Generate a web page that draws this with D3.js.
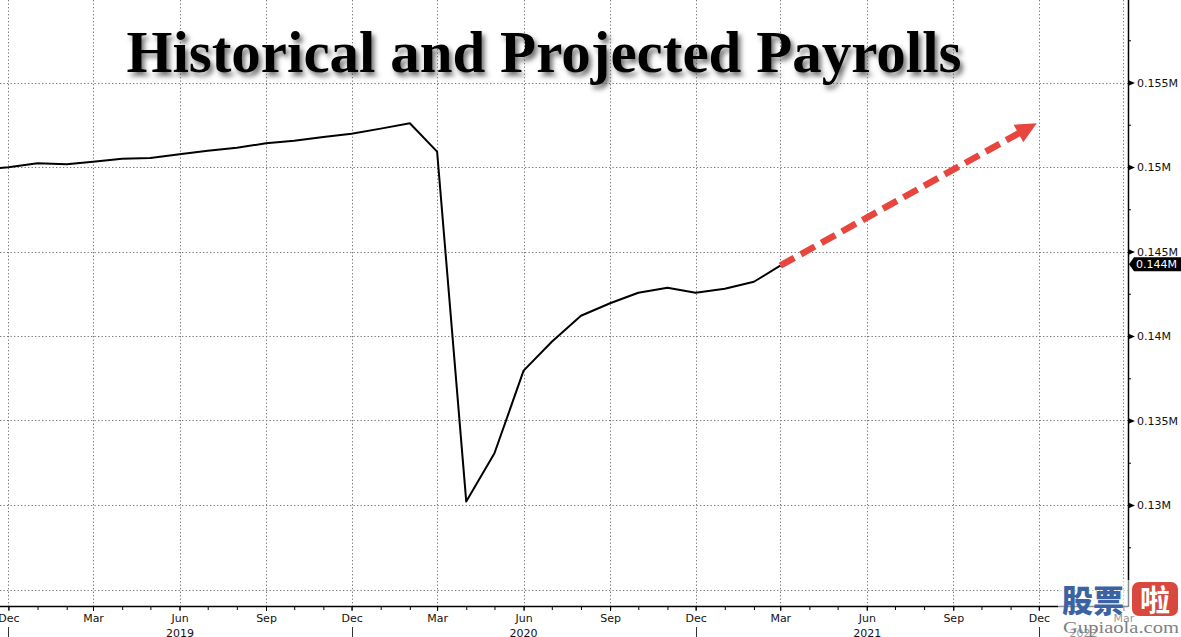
<!DOCTYPE html>
<html>
<head>
<meta charset="utf-8">
<script src="https://cdn.jsdelivr.net/npm/d3@7"></script>
<style>
  html, body { margin: 0; padding: 0; background: #fff; }
  svg { display: block; }
  .tick text { font-family: "DejaVu Sans", Verdana, sans-serif; }
</style>
</head>
<body>
<div id="chart"></div>
<script>
// monthly payrolls (shown in Bloomberg's "M" units)
var months = ["2018-11","2018-12","2019-01","2019-02","2019-03","2019-04","2019-05","2019-06",
  "2019-07","2019-08","2019-09","2019-10","2019-11","2019-12","2020-01","2020-02","2020-03",
  "2020-04","2020-05","2020-06","2020-07","2020-08","2020-09","2020-10","2020-11","2020-12",
  "2021-01","2021-02","2021-03"];
var payrolls = [0.14983,0.14998,0.15022,0.15016,0.15031,0.15049,0.15053,0.15075,
  0.15096,0.15114,0.15140,0.15156,0.15178,0.15197,0.15227,0.15259,0.15091,
  0.13020,0.13306,0.13795,0.13966,0.14120,0.14194,0.14256,0.14286,0.14256,
  0.14280,0.14321,0.14416];

// projection arrow
var projMonths = ["2021-03","2021-12"];
var projValues = [0.14416, 0.15259];

var quarterTicks = ["2018-12","2019-03","2019-06","2019-09","2019-12","2020-03","2020-06",
  "2020-09","2020-12","2021-03","2021-06","2021-09","2021-12","2022-03"];
var quarterLabels = ["Dec","Mar","Jun","Sep","Dec","Mar","Jun","Sep","Dec","Mar","Jun","Sep","Dec","Mar"];
var yearBreaks = ["2018-12","2019-12","2020-12","2021-12"];
var yearLabels = ["2019","2020","2021","2022"];
var yTicks = [0.13, 0.135, 0.14, 0.145, 0.15, 0.155];
var yLabels = ["0.13M","0.135M","0.14M","0.145M","0.15M","0.155M"];
var yGrid = [0.125, 0.13, 0.135, 0.14, 0.145, 0.15, 0.155];
var lastLabel = "0.144M";

var width = 1181, height = 637;
var plotRight = 1128, plotBottom = 606;

var parse = d3.timeParse("%Y-%m");

var x = d3.scaleTime()
  .domain([parse("2018-12"), parse("2021-12")])
  .range([8.4, 1038.8]);
var y = d3.scaleLinear()
  .domain([0.125, 0.155])
  .range([589.5, 82.5]);

var svg = d3.select("#chart").append("svg")
  .attr("width", width)
  .attr("height", height);

var defs = svg.append("defs");
defs.append("clipPath").attr("id", "plot-clip")
  .append("rect")
  .attr("x", 0).attr("y", 0)
  .attr("width", plotRight).attr("height", plotBottom);

var shadow = defs.append("filter").attr("id", "title-shadow")
  .attr("x", "-5%").attr("y", "-20%").attr("width", "115%").attr("height", "160%");
shadow.append("feDropShadow")
  .attr("dx", 3).attr("dy", 4)
  .attr("stdDeviation", 2.5)
  .attr("flood-color", "#444")
  .attr("flood-opacity", 0.75);

// grid
var grid = svg.append("g").attr("class", "grid")
  .attr("stroke", "#777")
  .attr("stroke-width", 1)
  .attr("stroke-dasharray", "1.3,2.2");

grid.selectAll("line.h")
  .data(yGrid)
  .enter().append("line")
  .attr("class", "h")
  .attr("x1", 0).attr("x2", plotRight)
  .attr("y1", function(d) { return Math.round(y(d)) + 0.5; })
  .attr("y2", function(d) { return Math.round(y(d)) + 0.5; });

grid.selectAll("line.v")
  .data(quarterTicks)
  .enter().append("line")
  .attr("class", "v")
  .attr("y1", 0).attr("y2", plotBottom)
  .attr("x1", function(d) { return Math.round(x(parse(d))) + 0.5; })
  .attr("x2", function(d) { return Math.round(x(parse(d))) + 0.5; });

// title
svg.append("text")
  .attr("x", 544)
  .attr("y", 72)
  .attr("text-anchor", "middle")
  .attr("textLength", 835)
  .attr("lengthAdjust", "spacingAndGlyphs")
  .style("font-family", "'Liberation Serif', 'Times New Roman', serif")
  .style("font-weight", "bold")
  .style("font-size", "60px")
  .style("fill", "#000")
  .attr("filter", "url(#title-shadow)")
  .text("Historical and Projected Payrolls");

// payroll line
var line = d3.line()
  .x(function(d, i) { return x(parse(months[i])); })
  .y(function(d) { return y(d); });

svg.append("g").attr("clip-path", "url(#plot-clip)")
  .append("path")
  .datum(payrolls)
  .attr("d", line)
  .attr("fill", "none")
  .attr("stroke", "#000")
  .attr("stroke-width", 2)
  .attr("stroke-linejoin", "round");

// projection arrow
var p0 = [x(parse(projMonths[0])), y(projValues[0])];
var p1 = [x(parse(projMonths[1])) - 2, y(projValues[1])];
var ang = Math.atan2(p1[1] - p0[1], p1[0] - p0[0]);
var headLen = 21, headHalf = 10;
var base = [p1[0] - headLen * Math.cos(ang), p1[1] - headLen * Math.sin(ang)];

svg.append("line")
  .attr("x1", p0[0]).attr("y1", p0[1])
  .attr("x2", base[0] + 3 * Math.cos(ang)).attr("y2", base[1] + 3 * Math.sin(ang))
  .attr("stroke", "#e8453f")
  .attr("stroke-width", 6.5)
  .attr("stroke-dasharray", "16,7.5");

svg.append("path")
  .attr("d", "M" + p1 +
    "L" + [base[0] + headHalf * Math.sin(ang), base[1] - headHalf * Math.cos(ang)] +
    "L" + [base[0] - headHalf * Math.sin(ang), base[1] + headHalf * Math.cos(ang)] + "Z")
  .attr("fill", "#e8453f");

// x axis: monthly minor ticks, quarterly labels
var xMinor = d3.axisBottom(x)
  .ticks(d3.timeMonth.every(1))
  .tickSize(4)
  .tickFormat("");
var xMinorG = svg.append("g")
  .attr("transform", "translate(0," + plotBottom + ")")
  .call(xMinor);
xMinorG.select(".domain").remove();
xMinorG.selectAll(".tick").filter(function(d) { return x(d) < 0 || x(d) > plotRight; }).remove();

var xAxis = d3.axisBottom(x)
  .tickValues(quarterTicks.map(parse))
  .tickSize(5)
  .tickPadding(3)
  .tickFormat(function(d, i) { return quarterLabels[i]; });
var xAxisG = svg.append("g")
  .attr("transform", "translate(0," + plotBottom + ")")
  .call(xAxis);
xAxisG.select(".domain").remove();
xAxisG.selectAll(".tick text")
  .style("font-size", "11px")
  .style("fill", "#111");

svg.append("line")
  .attr("x1", 0).attr("x2", plotRight)
  .attr("y1", plotBottom + 0.5).attr("y2", plotBottom + 0.5)
  .attr("stroke", "#000").attr("stroke-width", 1.5);

// year separators and labels
svg.selectAll("line.yearsep")
  .data(yearBreaks)
  .enter().append("line")
  .attr("class", "yearsep")
  .attr("x1", function(d) { return Math.round(x(parse(d))) + 0.5; })
  .attr("x2", function(d) { return Math.round(x(parse(d))) + 0.5; })
  .attr("y1", 627).attr("y2", height)
  .attr("stroke", "#333");

svg.selectAll("text.year")
  .data(yearLabels)
  .enter().append("text")
  .attr("class", "year")
  .attr("x", function(d, i) {
    var a = x(parse(yearBreaks[i]));
    var b = i + 1 < yearBreaks.length ? x(parse(yearBreaks[i + 1])) : plotRight;
    return (a + b) / 2;
  })
  .attr("y", 637)
  .attr("text-anchor", "middle")
  .style("font-family", "'DejaVu Sans', Verdana, sans-serif")
  .style("font-size", "11px")
  .style("fill", "#111")
  .text(function(d) { return d; });

// y axis on the right
var yAxis = d3.axisRight(y)
  .tickValues(yTicks)
  .tickSize(0)
  .tickPadding(9)
  .tickFormat(function(d, i) { return yLabels[i]; });
var yAxisG = svg.append("g")
  .attr("transform", "translate(" + plotRight + ",0)")
  .call(yAxis);
yAxisG.select(".domain").remove();
yAxisG.selectAll(".tick text")
  .style("font-size", "11px")
  .style("fill", "#111");
yAxisG.selectAll(".tick").append("path")
  .attr("d", "M0,-3L7,0L0,3Z")
  .attr("fill", "#000");

var yMinor = d3.axisRight(y)
  .tickValues(d3.range(0.1275, 0.16, 0.005))
  .tickSize(3)
  .tickFormat("");
var yMinorG = svg.append("g")
  .attr("transform", "translate(" + plotRight + ",0)")
  .call(yMinor);
yMinorG.select(".domain").remove();

svg.append("line")
  .attr("x1", plotRight + 0.5).attr("x2", plotRight + 0.5)
  .attr("y1", 0).attr("y2", plotBottom + 1)
  .attr("stroke", "#000").attr("stroke-width", 1.5);

// last value tag
var lastY = y(payrolls[payrolls.length - 1]) - 1.5;
svg.append("path")
  .attr("d", "M" + (plotRight + 1) + "," + lastY +
    "L" + (plotRight + 6) + "," + (lastY - 7) +
    "L" + width + "," + (lastY - 7) +
    "L" + width + "," + (lastY + 7) +
    "L" + (plotRight + 6) + "," + (lastY + 7) + "Z")
  .attr("fill", "#000");
svg.append("text")
  .attr("x", plotRight + 8)
  .attr("y", lastY + 4)
  .style("font-family", "'DejaVu Sans', Verdana, sans-serif")
  .style("font-size", "11px")
  .style("fill", "#fff")
  .text(lastLabel);

// watermark
var wm = svg.append("g").attr("class", "watermark");
wm.append("rect")
  .attr("x", 1058).attr("y", 580).attr("width", 123).attr("height", 57)
  .attr("fill", "#fff").attr("opacity", 0.55);
wm.append("text")
  .attr("x", 1062).attr("y", 612)
  .style("font-family", "'Noto Sans CJK SC', sans-serif")
  .style("font-weight", "900")
  .style("font-size", "31px")
  .style("fill", "#3b63a3")
  .text("股票");
wm.append("rect")
  .attr("x", 1132).attr("y", 582).attr("width", 46).attr("height", 34)
  .attr("rx", 7)
  .attr("fill", "#d8483f");
wm.append("text")
  .attr("x", 1155).attr("y", 611)
  .attr("text-anchor", "middle")
  .style("font-family", "'Noto Sans CJK SC', sans-serif")
  .style("font-weight", "bold")
  .style("font-size", "30px")
  .style("fill", "#fff")
  .text("啦");
wm.append("text")
  .attr("x", 1063).attr("y", 633)
  .attr("textLength", 116)
  .attr("lengthAdjust", "spacingAndGlyphs")
  .style("font-family", "'Liberation Serif', serif")
  .style("font-size", "17px")
  .style("fill", "#7f7f7f")
  .text("Gupiaola.com");
</script>
</body>
</html>
